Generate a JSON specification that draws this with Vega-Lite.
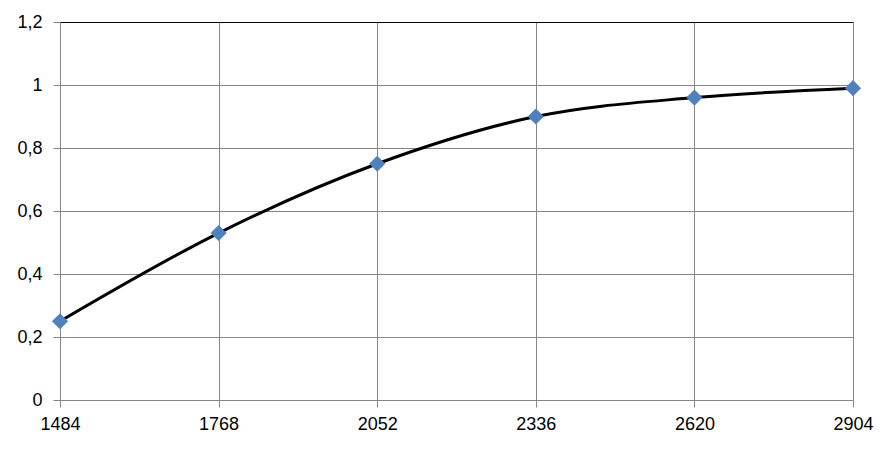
{
  "$schema": "https://vega.github.io/schema/vega-lite/v6.json",
  "autosize": "none",
  "width": 793,
  "height": 378,
  "padding": {"left": 60, "top": 22, "right": 35, "bottom": 61},
  "background": "white",
  "config": {
    "view": {"stroke": null},
    "axis": {
      "labelFont": "Liberation Sans",
      "labelFontSize": 18,
      "labelColor": "#000000",
      "gridColor": "#868686",
      "gridOpacity": 1,
      "gridWidth": 1,
      "tickColor": "#868686",
      "tickSize": 7,
      "domainColor": "#868686",
      "labelFlush": false,
      "labelOverlap": false,
      "title": null
    }
  },
  "data": {
    "values": [
      {"x": 1484, "y": 0.25},
      {"x": 1768, "y": 0.53},
      {"x": 2052, "y": 0.75},
      {"x": 2336, "y": 0.90},
      {"x": 2620, "y": 0.96},
      {"x": 2904, "y": 0.99}
    ]
  },
  "encoding": {
    "x": {
      "field": "x",
      "type": "quantitative",
      "scale": {"domain": [1484, 2904], "nice": false, "zero": false},
      "axis": {
        "values": [1484, 1768, 2052, 2336, 2620, 2904],
        "format": "d",
        "labelPadding": 8,
        "grid": true
      }
    },
    "y": {
      "field": "y",
      "type": "quantitative",
      "scale": {"domain": [0, 1.2], "nice": false},
      "axis": {
        "values": [0, 0.2, 0.4, 0.6, 0.8, 1, 1.2],
        "labelExpr": "replace(format(datum.value, '~g'), '.', ',')",
        "labelPadding": 11,
        "gridColor": {"condition": {"test": "datum.value >= 1.2", "value": "#000000"}, "value": "#868686"}
      }
    }
  },
  "layer": [
    {
      "mark": {"type": "line", "color": "#000000", "strokeWidth": 3, "interpolate": "monotone"}
    },
    {
      "mark": {"type": "point", "shape": "diamond", "filled": true, "color": "#4F81BD", "opacity": 1, "size": 260}
    }
  ]
}
